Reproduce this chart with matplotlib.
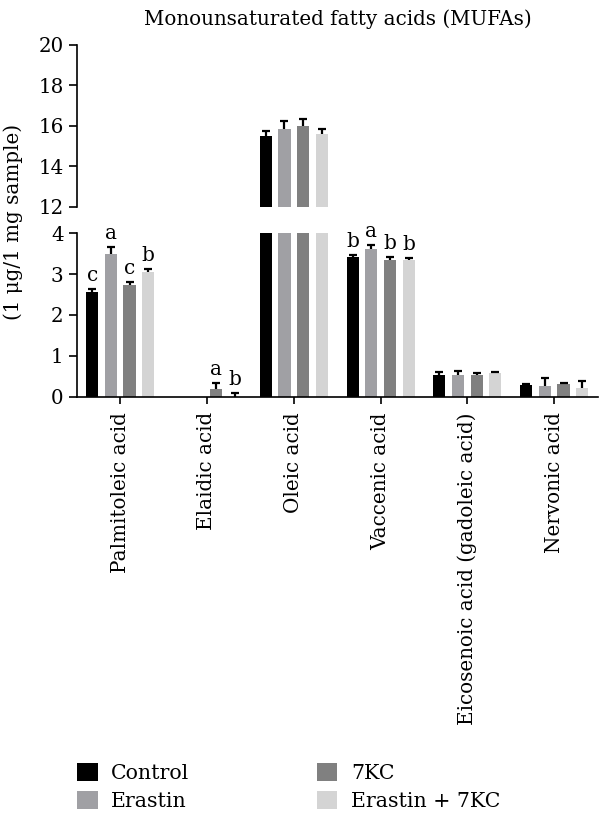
import matplotlib
matplotlib.use("Agg")
import matplotlib.pyplot as plt
import numpy as np
from matplotlib.patches import Patch

plt.rcParams['font.family'] = ['DejaVu Serif']

acids = ["Palmitoleic acid", "Elaidic acid", "Oleic acid", "Vaccenic acid",
         "Eicosenoic acid (gadoleic acid)", "Nervonic acid"]
groups = ["Control", "Erastin", "7KC", "Erastin + 7KC"]
colors = ["#000000", "#a0a0a4", "#808080", "#d4d4d4"]

nan = np.nan
control = [2.57, 0.0, 15.52, 3.41, 0.54, 0.30]
control_err = [0.07, nan, 0.23, 0.06, 0.07, 0.02]
erastin = [3.50, 0.0, 15.84, 3.60, 0.53, 0.27]
erastin_err = [0.16, nan, 0.41, 0.11, 0.11, 0.19]
kc = [2.73, 0.19, 16.00, 3.34, 0.53, 0.32]
kc_err = [0.07, 0.16, 0.35, 0.08, 0.05, 0.03]
combo = [3.05, 0.01, 15.59, 3.34, 0.58, 0.22]
combo_err = [0.08, 0.09, 0.26, 0.05, 0.02, 0.18]

# significance letters per acid (index -> one letter per group)
letters = {0: ["c", "a", "c", "b"],
           1: ["", "", "a", "b"],
           3: ["b", "a", "b", "b"]}

series = [control, erastin, kc, combo]
errors = [control_err, erastin_err, kc_err, combo_err]

fig = plt.figure(figsize=(6, 8.13), dpi=100)
ax_top = fig.add_axes([0.128, 0.7454, 0.868, 0.1993])
ax_bot = fig.add_axes([0.128, 0.5117, 0.868, 0.2017])

x = np.arange(len(acids))
step = 0.215
width = 0.14

for ax in (ax_top, ax_bot):
    for i in range(4):
        pos = x + (i - 1.5) * step
        ax.bar(pos, series[i], width, color=colors[i], zorder=2)
        err = np.array(errors[i], dtype=float)
        yerr = [np.zeros(len(acids)), err]
        eb = ax.errorbar(pos, series[i], yerr=yerr, fmt="none", ecolor="black",
                         elinewidth=1.6, capsize=3, capthick=1.6, zorder=3)
        # only keep the upper cap
        eb[1][0].set_visible(False)
    ax.set_xlim(-0.5, 5.5)
    ax.spines["top"].set_visible(False)
    ax.spines["right"].set_visible(False)
    ax.spines["left"].set_linewidth(1.2)
    ax.tick_params(axis="y", labelsize=14.3, length=6, width=1.2)

for k, labs in letters.items():
    for i, lab in enumerate(labs):
        if lab:
            top = series[i][k] + errors[i][k]
            ax_bot.text(k + (i - 1.5) * step, top + 0.1, lab, ha="center",
                        va="bottom", fontsize=14.5)

ax_top.set_ylim(12, 20)
ax_top.set_yticks([12, 14, 16, 18, 20])
ax_top.spines["bottom"].set_visible(False)
ax_top.set_xticks([])

ax_bot.set_ylim(0, 4)
ax_bot.set_yticks([0, 1, 2, 3, 4])
ax_bot.spines["bottom"].set_linewidth(1.2)
ax_bot.set_xticks(x)
ax_bot.set_xticklabels(acids, rotation=90, fontsize=14.3)
ax_bot.tick_params(axis="x", length=5, width=1.2, pad=6)

fig.text(0.5625, 0.988, "Monounsaturated fatty acids (MUFAs)", ha="center",
         va="top", fontsize=14.3)
fig.text(0.022, 1 - 222 / 813, "(1 μg/1 mg sample)", rotation=90,
         ha="center", va="center", fontsize=14.3)

handles = [Patch(facecolor=c, edgecolor="none") for c in colors]
fig.legend(handles, groups, loc="lower left", bbox_to_anchor=(0.098, -0.02),
           ncol=2, frameon=False, fontsize=14.8, handlelength=1.0,
           handleheight=1.0, handletextpad=0.65, columnspacing=6.2,
           labelspacing=0.35)

fig.savefig("out.png", dpi=100)
